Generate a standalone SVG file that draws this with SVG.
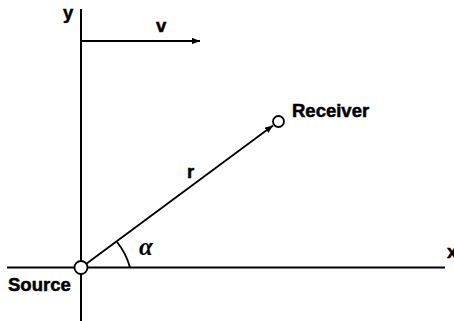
<svg xmlns="http://www.w3.org/2000/svg" width="454" height="321" viewBox="0 0 454 321">
<defs>
<style>
.ax{stroke:#000;stroke-width:2;fill:none}
.ln{stroke:#000;stroke-width:1.8;fill:none}
.nd{fill:#fff;stroke:#000;stroke-width:1.8}
.lb{font-family:"Liberation Sans",Arial,sans-serif;font-weight:bold;font-size:18.5px;fill:#000;stroke:#000;stroke-width:0.5}
.gr{font-family:"Liberation Serif","Times New Roman",serif;font-style:italic;font-weight:bold;font-size:25px;fill:#000}
</style>
<marker id="ah" viewBox="0 0 10 8" refX="10" refY="4" markerWidth="8" markerHeight="6.4" markerUnits="userSpaceOnUse" orient="auto">
<path d="M0,0 L10,4 L0,8 Z" fill="#000"/>
</marker>
</defs>
<rect width="454" height="321" fill="#fff"/>
<g id="connectors">
<line class="ax" x1="81" y1="9" x2="81" y2="321"/>
<line class="ax" x1="7" y1="267.5" x2="445" y2="267.5"/>
<line class="ln" x1="81" y1="41" x2="200" y2="41" marker-end="url(#ah)"/>
<line class="ln" x1="86" y1="264" x2="273" y2="125.5" marker-end="url(#ah)"/>
<path class="ln" d="M117,242 Q126,253 130,267.5"/>
</g>
<g id="source">
<circle class="nd" cx="81" cy="267.5" r="6.5"/>
<text class="lb" x="8" y="291">Source</text>
</g>
<g id="receiver">
<circle class="nd" cx="278.5" cy="121.5" r="5.5"/>
<text class="lb" x="292" y="117">Receiver</text>
</g>
<g id="labels">
<text class="lb" x="63" y="19">y</text>
<text class="lb" x="156" y="32">v</text>
<text class="lb" x="187" y="178">r</text>
<text class="lb" x="447" y="258">x</text>
<text class="gr" x="139" y="255">α</text>
</g>
</svg>
